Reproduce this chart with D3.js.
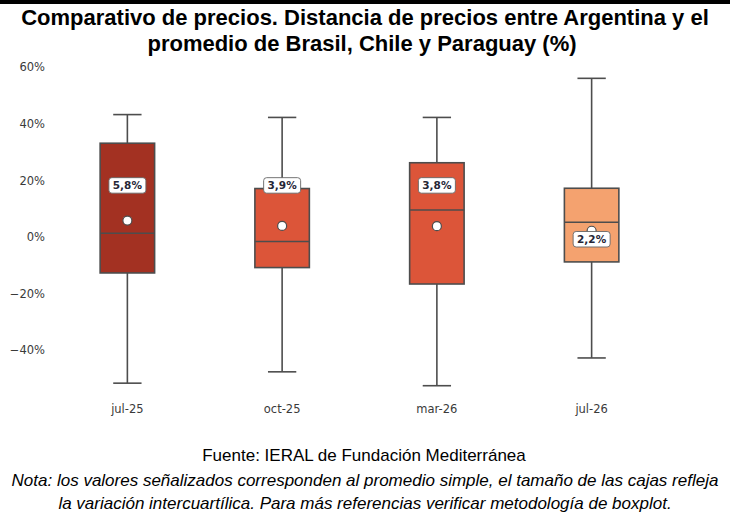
<!DOCTYPE html>
<html>
<head>
<meta charset="utf-8">
<script src="https://cdn.jsdelivr.net/npm/d3@7"></script>
<style>
  body { margin: 0; background: #fff; }
  svg { display: block; }
</style>
</head>
<body>
<div id="chart"></div>
<script>
// Categories and box statistics (in %)
var categories = ["jul-25", "oct-25", "mar-26", "jul-26"];
var whiskerHigh = [43.2, 42.2, 42.2, 56.0];
var q3 = [33.1, 17.1, 26.2, 17.2];
var medians = [1.3, -1.6, 9.5, 5.2];
var q1 = [-12.7, -10.8, -16.6, -8.8];
var whiskerLow = [-51.6, -47.6, -52.5, -42.7];
var means = [5.8, 3.9, 3.8, 2.2];
var meanLabels = ["5,8%", "3,9%", "3,8%", "2,2%"];
var yTicks = [-40, -20, 0, 20, 40, 60];

var boxColors = ["#a33122", "#dc5539", "#dc5539", "#f4a26f"];
var labelBelow = [false, false, false, true];

var width = 730,
	height = 516,
	edge = "#4d4d4d";

var svg = d3.select("#chart")
			.append("svg")
			.attr("width", width)
			.attr("height", height);

// top dark strip
svg.append("rect")
	.attr("x", 0).attr("y", 0)
	.attr("width", width).attr("height", 4)
	.attr("fill", "#000");

// Scales
var x = d3.scaleBand()
		  .domain(categories)
		  .range([50, 669])
		  .padding(0);

var y = d3.scaleLinear()
		  .domain([-40, 60])
		  .range([350.3, 67]);

var boxW = x.bandwidth() * 0.352,
	capW = boxW * 0.52;

// Title
var title = svg.append("text")
	.attr("text-anchor", "middle")
	.attr("font-family", "Liberation Sans, Arial, sans-serif")
	.attr("font-weight", "bold")
	.attr("font-size", 22)
	.attr("fill", "#000");
title.append("tspan").attr("x", 365).attr("y", 25)
	.text("Comparativo de precios. Distancia de precios entre Argentina y el");
title.append("tspan").attr("x", 362).attr("y", 51)
	.text("promedio de Brasil, Chile y Paraguay (%)");

// Y axis (labels only)
var yAxis = d3.axisLeft(y)
			  .tickValues(yTicks)
			  .tickSize(0)
			  .tickPadding(0)
			  .tickFormat(function(d) { return (d < 0 ? "\u2212" + Math.abs(d) : d) + "%"; });

var yG = svg.append("g")
	.attr("transform", "translate(45,0)")
	.call(yAxis);
yG.select(".domain").remove();
yG.selectAll("text")
	.attr("font-family", "DejaVu Sans, sans-serif")
	.attr("font-size", 11.5)
	.attr("fill", "#3a3a3a");

// X axis (labels only)
var xAxis = d3.axisBottom(x).tickSize(0).tickPadding(0);
var xG = svg.append("g")
	.attr("transform", "translate(0,405)")
	.call(xAxis);
xG.select(".domain").remove();
xG.selectAll("text")
	.attr("font-family", "DejaVu Sans, sans-serif")
	.attr("font-size", 11.5)
	.attr("fill", "#3a3a3a");

// Boxes
var idx = d3.range(categories.length);
var groups = svg.selectAll(".box")
	.data(idx)
	.enter().append("g")
	.attr("class", "box")
	.attr("transform", function(i) { return "translate(" + (x(categories[i]) + x.bandwidth() / 2) + ",0)"; });

// whiskers
groups.append("line")
	.attr("x1", 0).attr("x2", 0)
	.attr("y1", function(i) { return y(whiskerHigh[i]); })
	.attr("y2", function(i) { return y(q3[i]); })
	.attr("stroke", edge).attr("stroke-width", 1.6);
groups.append("line")
	.attr("x1", 0).attr("x2", 0)
	.attr("y1", function(i) { return y(q1[i]); })
	.attr("y2", function(i) { return y(whiskerLow[i]); })
	.attr("stroke", edge).attr("stroke-width", 1.6);
groups.append("line")
	.attr("x1", -capW / 2).attr("x2", capW / 2)
	.attr("y1", function(i) { return y(whiskerHigh[i]); })
	.attr("y2", function(i) { return y(whiskerHigh[i]); })
	.attr("stroke", edge).attr("stroke-width", 1.6);
groups.append("line")
	.attr("x1", -capW / 2).attr("x2", capW / 2)
	.attr("y1", function(i) { return y(whiskerLow[i]); })
	.attr("y2", function(i) { return y(whiskerLow[i]); })
	.attr("stroke", edge).attr("stroke-width", 1.6);

// IQR box
groups.append("rect")
	.attr("x", -boxW / 2)
	.attr("width", boxW)
	.attr("y", function(i) { return y(q3[i]); })
	.attr("height", function(i) { return y(q1[i]) - y(q3[i]); })
	.attr("fill", function(i) { return boxColors[i]; })
	.attr("stroke", edge).attr("stroke-width", 1.6);

// median
groups.append("line")
	.attr("x1", -boxW / 2).attr("x2", boxW / 2)
	.attr("y1", function(i) { return y(medians[i]); })
	.attr("y2", function(i) { return y(medians[i]); })
	.attr("stroke", edge).attr("stroke-width", 1.6);

// mean marker
groups.append("circle")
	.attr("cx", 0)
	.attr("cy", function(i) { return y(means[i]); })
	.attr("r", 4.5)
	.attr("fill", "#fff")
	.attr("stroke", edge).attr("stroke-width", 1.2);

// mean labels
var labW = 37, labH = 15.5;
var labY = function(i) { return labelBelow[i] ? y(means[i]) + 8.5 : y(18.2); };

groups.append("rect")
	.attr("x", -labW / 2)
	.attr("y", function(i) { return labY(i) - labH / 2; })
	.attr("width", labW)
	.attr("height", labH)
	.attr("rx", 3)
	.attr("fill", "#fff")
	.attr("stroke", "#666")
	.attr("stroke-width", 0.9);

groups.append("text")
	.attr("x", 0)
	.attr("y", function(i) { return labY(i); })
	.attr("dy", "0.36em")
	.attr("text-anchor", "middle")
	.attr("font-family", "DejaVu Sans, sans-serif")
	.attr("font-weight", "bold")
	.attr("font-size", 10.5)
	.attr("fill", "#262636")
	.text(function(i) { return meanLabels[i]; });

// Footer
svg.append("text")
	.attr("x", 364).attr("y", 461)
	.attr("text-anchor", "middle")
	.attr("font-family", "Liberation Sans, Arial, sans-serif")
	.attr("font-size", 17)
	.attr("fill", "#000")
	.text("Fuente: IERAL de Fundación Mediterránea");

var note = svg.append("text")
	.attr("text-anchor", "middle")
	.attr("font-family", "Liberation Sans, Arial, sans-serif")
	.attr("font-style", "italic")
	.attr("font-size", 17)
	.attr("fill", "#000");
note.append("tspan").attr("x", 365).attr("y", 486)
	.text("Nota: los valores señalizados corresponden al promedio simple, el tamaño de las cajas refleja");
note.append("tspan").attr("x", 365).attr("y", 509)
	.text("la variación intercuartílica. Para más referencias verificar metodología de boxplot.");
</script>
</body>
</html>
